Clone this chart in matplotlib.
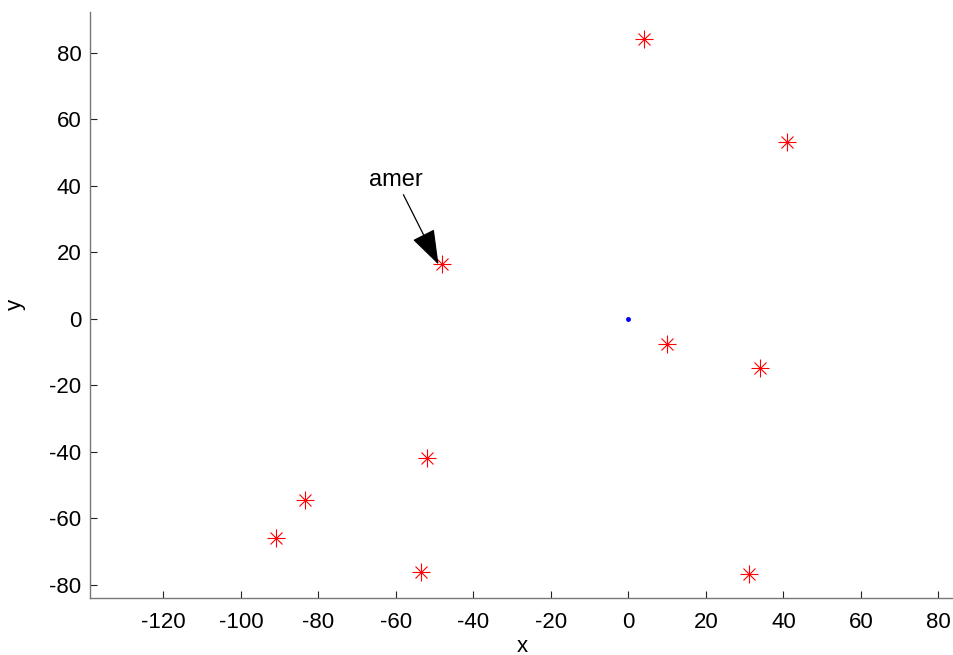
import matplotlib.pyplot as plt

# ---------------------------------------------------------------------------
# Data
# ---------------------------------------------------------------------------
amer_x = [4, 41, 10, 34, -48, -52, -83.5, -91, -53.5, 31]
amer_y = [84, 53, -7.5, -14.8, 16.5, -42, -54.5, -66, -76.2, -76.8]

origin_x = [0]
origin_y = [0]

label_text = "amer"
label_xy = (-60, 38.5)
arrow_tip = (-49, 16.3)

xticks = list(range(-120, 81, 20))
yticks = list(range(-80, 81, 20))

# ---------------------------------------------------------------------------
# Plot
# ---------------------------------------------------------------------------
plt.rcParams["font.family"] = ["Liberation Sans", "DejaVu Sans"]
plt.rcParams["axes.unicode_minus"] = False

fig = plt.figure(figsize=(9.54, 6.55), dpi=100)
ax = fig.add_axes([0.094, 0.087, 0.906, 0.895])

# MATLAB style '*' marker = '+' over a smaller 'x'
ax.plot(amer_x, amer_y, linestyle="none", marker="+", markersize=13,
        markeredgewidth=0.8, color="red")
ax.plot(amer_x, amer_y, linestyle="none", marker="x", markersize=8,
        markeredgewidth=0.8, color="red")
ax.plot(origin_x, origin_y, linestyle="none", marker="o", markersize=2.5,
        color="blue")

ax.annotate(label_text, xy=arrow_tip, xytext=label_xy, fontsize=17,
            ha="center", va="bottom",
            arrowprops=dict(arrowstyle="-|>,head_length=1.3,head_width=0.45",
                            color="black", lw=0.9, shrinkA=1, shrinkB=0))

ax.set_xlim(-139, 84)
ax.set_ylim(-84, 92.3)
ax.set_xticks(xticks)
ax.set_yticks(yticks)
ax.tick_params(direction="in", length=5, labelsize=16, color="#222222")
ax.tick_params(axis="y", pad=6)
ax.tick_params(axis="x", pad=10)

for side in ("top", "right"):
    ax.spines[side].set_visible(False)
for side in ("left", "bottom"):
    ax.spines[side].set_color("#777777")
    ax.spines[side].set_linewidth(1.0)

ax.set_xlabel("x", fontsize=16, labelpad=2)
ax.set_ylabel("y", fontsize=16, labelpad=17)

plt.savefig("out.png", dpi=100)
